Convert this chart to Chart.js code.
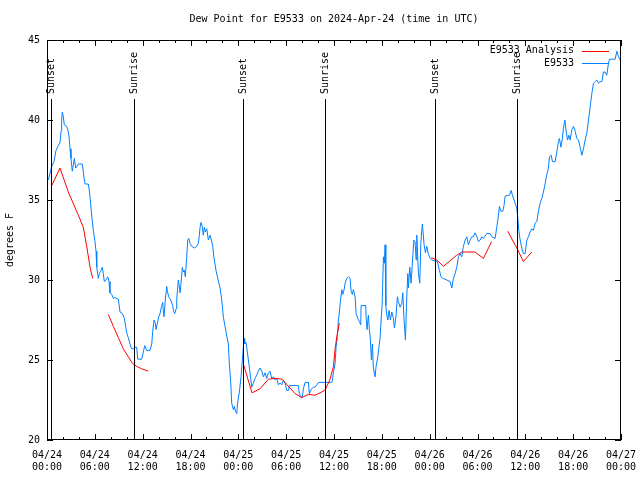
<!DOCTYPE html>
<html lang="en">
<head>
    <meta charset="UTF-8">
    <title>Dew Point for E9533</title>
    <script src="https://cdn.jsdelivr.net/npm/chart.js"></script>
    <style>
        body {
            margin: 0;
            background: #fff;
        }
    </style>
</head>
<body>
    <canvas id="dewChart" width="640" height="480"></canvas>
    <script>
        // hours since 2024-04-24 00:00 UTC
        const obsHours = [0.16, 0.59, 0.88, 1.13, 1.42, 1.63, 1.76, 1.84, 1.92, 2.05, 2.17, 2.47, 2.60, 2.76, 2.89, 3.01, 3.17, 3.30, 3.43, 3.60,
            3.73, 3.93, 4.43, 4.64, 4.77, 5.18, 5.31, 5.43, 5.61, 5.81, 6.02, 6.15, 6.24, 6.44, 6.56, 6.78, 6.94, 7.06, 7.19, 7.40,
            7.62, 7.78, 7.90, 8.12, 8.32, 8.53, 8.95, 9.16, 9.45, 9.70, 9.87, 10.0, 10.2, 10.41, 10.63, 10.83, 11.04, 11.25, 11.38, 11.88,
            12.08, 12.26, 12.51, 12.92, 13.14, 13.26, 13.43, 13.59, 13.68, 13.84, 14.01, 14.18, 14.34, 14.52, 14.59, 14.68, 14.84, 15.02, 15.09, 15.27,
            15.52, 15.77, 15.85, 16.02, 16.19, 16.27, 16.47, 16.60, 16.69, 16.81, 16.98, 17.10, 17.23, 17.35, 17.53, 17.65, 17.78, 17.94, 18.16, 18.48,
            18.78, 18.98, 19.11, 19.20, 19.32, 19.45, 19.61, 19.74, 19.86, 20.04, 20.24, 20.45, 20.62, 20.79, 20.95, 21.20, 21.46, 21.71, 21.92, 22.12,
            22.33, 22.55, 22.75, 22.87, 23.05, 23.17, 23.38, 23.50, 23.63, 23.80, 23.93, 24.13, 24.34, 24.50, 24.72, 24.80, 24.97, 25.13, 25.26, 25.47,
            25.68, 25.88, 26.10, 26.31, 26.51, 26.72, 26.94, 27.14, 27.35, 27.56, 27.77, 27.98, 28.19, 28.39, 28.61, 28.82, 29.02, 29.23, 29.45, 29.65,
            29.86, 30.08, 30.28, 30.40, 31.53, 31.66, 31.83, 32.03, 32.16, 32.37, 32.79, 32.91, 33.09, 33.21, 33.41, 33.63, 33.84, 34.04, 35.72, 35.80,
            35.92, 36.14, 36.26, 36.42, 36.55, 36.68, 36.80, 36.98, 37.10, 37.27, 37.39, 37.60, 37.80, 38.02, 38.14, 38.31, 38.43, 38.65, 38.77, 38.98,
            39.18, 39.36, 39.40, 39.99, 40.02, 40.15, 40.31, 40.44, 40.56, 40.69, 40.82, 40.94, 41.15, 41.28, 41.49, 41.66, 41.78, 41.91, 42.03, 42.20,
            42.32, 42.41, 42.50, 42.62, 42.75, 42.91, 43.07, 43.25, 43.45, 43.58, 43.79, 43.95, 44.08, 44.29, 44.50, 44.63, 44.79, 44.96, 45.13, 45.26,
            45.33, 45.51, 45.67, 45.83, 46.01, 46.17, 46.30, 46.38, 46.59, 46.76, 46.89, 47.01, 47.09, 47.30, 47.47, 47.64, 47.84, 48.05, 48.27, 48.97,
            49.22, 49.43, 49.65, 50.15, 50.56, 50.78, 50.98, 51.19, 51.40, 51.61, 51.82, 52.03, 52.23, 52.45, 52.66, 52.86, 53.07, 53.29, 53.49, 53.70,
            53.92, 54.12, 54.33, 54.54, 54.74, 55.17, 55.58, 55.80, 56.21, 56.42, 56.63, 56.75, 56.93, 57.18, 57.34, 57.47, 58.01, 58.22, 58.38, 58.59,
            58.72, 58.93, 59.06, 59.18, 59.35, 59.56, 59.76, 59.97, 60.19, 60.39, 60.60, 60.81, 61.01, 61.23, 61.44, 61.64, 61.86, 62.07, 62.27, 62.48,
            62.70, 62.90, 63.02, 63.24, 63.40, 63.74, 63.95, 64.15, 64.28, 64.46, 64.62, 64.78, 64.96, 65.12, 65.29, 65.46, 65.62, 65.84, 66.04, 66.25,
            66.46, 66.66, 66.88, 67.09, 67.29, 67.50, 67.72, 67.92, 68.13, 68.34, 68.55, 68.76, 68.97, 69.17, 69.38, 69.60, 69.80, 70.01, 70.22, 70.43,
            70.55, 71.27, 71.48, 71.68, 71.90];
        const obsDewpt = [36.25, 37.1, 37.4, 38.1, 38.4, 38.6, 39.3, 40.0, 40.5, 40.2, 39.7, 39.6, 39.4, 39.0, 38.2, 37.6, 36.8, 37.2, 37.6, 37.0,
            37.1, 37.25, 37.25, 36.4, 36.0, 36.0, 35.6, 35.0, 34.0, 33.1, 32.4, 31.8, 30.8, 30.1, 30.4, 30.6, 30.8, 30.4, 29.9, 30.0,
            30.2, 29.9, 29.2, 29.1, 28.85, 28.9, 28.8, 28.0, 27.9, 27.6, 27.1, 26.7, 26.4, 26.0, 25.7, 25.7, 25.8, 25.8, 25.05, 25.05,
            25.5, 25.9, 25.6, 25.6, 26.0, 26.8, 27.5, 27.3, 26.9, 27.3, 27.7, 27.9, 28.3, 28.6, 28.1, 27.7, 28.75, 29.6, 29.3, 28.95,
            28.75, 28.4, 28.1, 27.9, 28.2, 28.75, 30.0, 29.6, 29.2, 29.8, 30.8, 30.5, 30.6, 30.2, 31.45, 32.5, 32.6, 32.3, 32.1, 32.0,
            32.1, 32.3, 32.8, 33.3, 33.6, 33.4, 32.8, 33.3, 33.0, 33.2, 32.5, 32.8, 32.5, 32.1, 31.35, 30.6, 30.0, 29.5, 28.75, 27.7,
            27.1, 26.5, 26.0, 24.8, 23.55, 22.3, 21.9, 22.1, 21.8, 21.65, 22.4, 23.0, 23.95, 25.0, 26.35, 26.0, 26.1, 25.5, 25.0, 24.2,
            23.3, 23.55, 23.85, 24.05, 24.3, 24.5, 24.3, 23.95, 24.2, 23.85, 24.2, 24.3, 23.85, 23.95, 23.75, 23.85, 23.45, 23.55, 23.45, 23.75,
            23.55, 23.1, 23.1, 23.4, 23.4, 22.9, 22.7, 22.7, 23.2, 23.6, 23.6, 22.9, 23.1, 23.2, 23.3, 23.3, 23.45, 23.6, 23.6, 23.75,
            24.2, 24.8, 25.8, 26.45, 27.5, 28.0, 28.65, 29.4, 29.1, 29.4, 29.8, 30.1, 30.2, 30.1, 29.3, 29.1, 29.4, 28.95, 27.9, 27.6,
            27.4, 27.2, 28.4, 28.4, 27.7, 26.9, 27.8, 26.9, 26.35, 25.0, 26.0, 24.5, 23.95, 24.6, 25.2, 25.9, 26.35, 27.5, 28.4, 31.45,
            31.05, 32.2, 28.4, 27.8, 27.5, 28.1, 27.5, 28.0, 27.6, 27.0, 27.8, 28.95, 28.65, 28.3, 28.55, 29.2, 27.5, 26.25, 28.95, 30.4,
            29.5, 30.8, 29.8, 31.05, 32.5, 32.4, 31.25, 32.8, 30.4, 29.8, 32.3, 33.1, 33.5, 32.2, 31.7, 32.1, 31.6, 31.35, 31.25, 31.15,
            30.6, 30.2, 30.1, 30.0, 29.9, 29.5, 30.1, 30.4, 30.8, 31.45, 31.65, 31.45, 32.1, 32.5, 32.7, 32.2, 32.5, 32.7, 32.7, 32.95,
            32.7, 32.4, 32.5, 32.7, 32.6, 32.9, 32.9, 32.7, 32.6, 33.3, 34.05, 34.6, 34.3, 34.3, 34.7, 35.25, 35.3, 35.6, 35.3, 35.0,
            34.8, 34.5, 33.85, 33.1, 32.5, 32.0, 31.65, 31.65, 32.5, 32.7, 33.0, 33.2, 33.1, 33.55, 33.65, 34.3, 34.8, 35.1, 35.5, 36.0,
            36.6, 37.0, 37.7, 37.8, 37.4, 37.4, 38.0, 38.65, 38.85, 38.3, 38.75, 39.5, 40.0, 39.3, 38.75, 39.05, 38.75, 39.4, 39.6, 39.3,
            38.85, 38.75, 38.3, 37.8, 38.2, 38.75, 39.2, 40.0, 40.8, 41.65, 42.3, 42.4, 42.5, 42.3, 42.4, 42.4, 43.0, 43.0, 42.8, 43.55,
            43.8, 43.8, 44.3, 43.95, 43.75];

        // analysis, null = gap
        const anaHours = [0.59, 1.63, 2.67, 3.93, 4.55, 4.98, 5.40, 5.73, 6.5,
            7.69, 8.32, 8.95, 9.57, 10.2, 10.7, 11.25, 11.88, 12.71, 18.0,
            24.63, 25.72, 26.72, 27.77, 28.61, 29.49, 30.11, 31.12, 31.96, 32.79, 33.63, 34.47, 34.92, 35.51, 35.93, 36.14, 36.35, 36.68, 42.0,
            48.18, 48.90, 49.73, 50.56, 51.40, 52.07, 53.70, 54.74, 55.77, 56.5,
            57.78, 58.93, 59.76, 60.81];
        const anaDewpt = [35.9, 37.0, 35.5, 34.05, 33.3, 32.1, 30.8, 30.1, null,
            27.85, 27.1, 26.4, 25.7, 25.2, 24.8, 24.6, 24.45, 24.3, null,
            24.75, 22.95, 23.2, 23.8, 23.85, 23.8, 23.45, 22.9, 22.65, 22.85, 22.8, 23.0, 23.15, 23.8, 24.6, 25.7, 26.45, 27.3, null,
            31.4, 31.25, 30.85, 31.2, 31.55, 31.75, 31.75, 31.35, 32.4, null,
            33.05, 32.0, 31.15, 31.75];

        const sunHours = [0.54, 10.95, 24.63, 34.92, 48.72, 59.01];
        const sunLabels = ['Sunset', 'Sunrise', 'Sunset', 'Sunrise', 'Sunset', 'Sunrise'];

        const tickDates = ['04/24', '04/24', '04/24', '04/24', '04/25', '04/25', '04/25', '04/25', '04/26', '04/26', '04/26', '04/26', '04/27'];
        const tickTimes = ['00:00', '06:00', '12:00', '18:00', '00:00', '06:00', '12:00', '18:00', '00:00', '06:00', '12:00', '18:00', '00:00'];

        const MONO = '"DejaVu Sans Mono", "Liberation Mono", monospace';

        function toPoints(xs, ys) {
            return xs.map((h, i) => ({ x: h, y: ys[i] }));
        }

        // box, inward tics, sunrise/sunset markers and key, gnuplot style
        const gnuplotFrame = {
            id: 'gnuplotFrame',
            afterDatasetsDraw(chart) {
                const { ctx, chartArea: a, scales: { x, y } } = chart;
                ctx.save();
                ctx.strokeStyle = '#000';
                ctx.fillStyle = '#000';
                ctx.lineWidth = 1;
                ctx.font = '10px ' + MONO;

                sunHours.forEach((h, i) => {
                    const px = Math.round(x.getPixelForValue(h)) + 0.5;
                    ctx.beginPath();
                    ctx.moveTo(px, a.top + 59);
                    ctx.lineTo(px, a.bottom);
                    ctx.stroke();
                    ctx.save();
                    ctx.translate(px, a.top + 54);
                    ctx.rotate(-Math.PI / 2);
                    ctx.textAlign = 'left';
                    ctx.textBaseline = 'middle';
                    ctx.fillText(sunLabels[i], 0, 0);
                    ctx.restore();
                });

                ctx.beginPath();
                for (let h = 0; h <= 72; h += 2) {
                    const px = Math.round(x.getPixelForValue(h)) + 0.5;
                    const len = h % 6 === 0 ? 6 : 3;
                    ctx.moveTo(px, a.bottom);
                    ctx.lineTo(px, a.bottom - len);
                    ctx.moveTo(px, a.top);
                    ctx.lineTo(px, a.top + len);
                }
                for (let v = 20; v <= 45; v += 5) {
                    const py = Math.round(y.getPixelForValue(v)) + 0.5;
                    ctx.moveTo(a.left, py);
                    ctx.lineTo(a.left + 6, py);
                    ctx.moveTo(a.right, py);
                    ctx.lineTo(a.right - 6, py);
                }
                ctx.stroke();
                ctx.strokeRect(a.left + 0.5, a.top + 0.5, a.width - 1, a.height - 1);

                // key
                ctx.textAlign = 'right';
                ctx.textBaseline = 'middle';
                chart.data.datasets.forEach((ds, i) => {
                    const ty = a.top + 10.5 + i * 12.5;
                    ctx.fillStyle = '#000';
                    ctx.fillText(ds.label, a.right - 47, ty);
                    ctx.strokeStyle = ds.borderColor;
                    ctx.beginPath();
                    ctx.moveTo(a.right - 39, Math.round(ty) + 0.5);
                    ctx.lineTo(a.right - 12, Math.round(ty) + 0.5);
                    ctx.stroke();
                });
                ctx.restore();
            }
        };

        const ctx = document.getElementById('dewChart').getContext('2d');
        new Chart(ctx, {
            type: 'line',
            data: {
                datasets: [
                    {
                        label: 'E9533 Analysis',
                        data: toPoints(anaHours, anaDewpt),
                        borderColor: '#ff0000',
                        borderWidth: 1,
                        pointRadius: 0,
                        spanGaps: false,
                        tension: 0
                    },
                    {
                        label: 'E9533',
                        data: toPoints(obsHours, obsDewpt),
                        borderColor: '#0080ff',
                        borderWidth: 1,
                        pointRadius: 0,
                        tension: 0
                    }
                ]
            },
            options: {
                responsive: false,
                animation: false,
                layout: { padding: { top: 0, right: 19, bottom: 0, left: 0 } },
                plugins: {
                    legend: { display: false },
                    tooltip: { enabled: false },
                    title: {
                        display: true,
                        fullSize: false,
                        text: 'Dew Point for E9533 on 2024-Apr-24 (time in UTC)',
                        color: '#000',
                        font: { family: MONO, size: 10, weight: 'normal', lineHeight: 1.2 },
                        padding: { top: 13, bottom: 15 }
                    }
                },
                scales: {
                    x: {
                        type: 'linear',
                        min: 0,
                        max: 72,
                        grid: { display: false, tickLength: 0 },
                        border: { display: false },
                        ticks: {
                            stepSize: 6,
                            autoSkip: false,
                            maxRotation: 0,
                            padding: 9,
                            color: '#000',
                            font: { family: MONO, size: 10, lineHeight: 1.25 },
                            callback: (v) => {
                                const i = Math.round(v / 6);
                                return [tickDates[i], tickTimes[i]];
                            }
                        },
                        afterFit: (scale) => {
                            scale.height = 40;
                            scale.paddingLeft = 0;
                            scale.paddingRight = 0;
                        }
                    },
                    y: {
                        min: 20,
                        max: 45,
                        grid: { display: false, tickLength: 0 },
                        border: { display: false },
                        ticks: {
                            stepSize: 5,
                            padding: 7,
                            color: '#000',
                            font: { family: MONO, size: 10 }
                        },
                        title: {
                            display: true,
                            text: 'degrees F',
                            color: '#000',
                            font: { family: MONO, size: 10, lineHeight: 1.2 },
                            padding: { top: 4, bottom: 0 }
                        },
                        afterFit: (scale) => {
                            scale.width = 47;
                            scale.paddingTop = 0;
                            scale.paddingBottom = 0;
                        }
                    }
                }
            },
            plugins: [gnuplotFrame]
        });
    </script>
</body>
</html>
